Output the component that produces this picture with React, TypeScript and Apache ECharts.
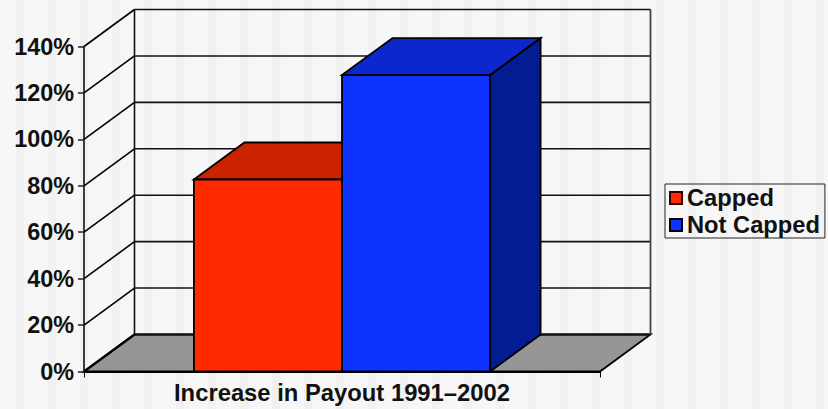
import React, { useEffect, useRef } from "react";
import * as echarts from "echarts";

const categories = ["Increase in Payout 1991–2002"];
const seriesNames = ["Capped", "Not Capped"];
const cappedValues = [82.7];
const notCappedValues = [127.7];
const yTicks = [0, 20, 40, 60, 80, 100, 120, 140];

const DX = 50.5;
const DY = -37;
const BAR_SHARE = 0.287;
const FONT = '"Liberation Sans", Arial, sans-serif';

const stroke = { stroke: "#000", lineWidth: 1.8 };

function bar(offset: number, front: string, top: string, side: string) {
  return (_p: any, api: any) => {
    const base = api.coord([api.value(0), 0]);
    const head = api.coord([api.value(0), api.value(1)]);
    const w = api.size([1, 0])[0] * BAR_SHARE;
    const x0 = base[0] + offset * w;
    const x1 = x0 + w;
    const y0 = base[1];
    const y1 = head[1];
    const poly = (points: number[][], fill: string) => ({
      type: "polygon",
      shape: { points },
      style: { fill, ...stroke },
    });
    return {
      type: "group",
      children: [
        poly([[x1, y0], [x1 + DX, y0 + DY], [x1 + DX, y1 + DY], [x1, y1]], side),
        poly([[x0, y1], [x0 + DX, y1 + DY], [x1 + DX, y1 + DY], [x1, y1]], top),
        poly([[x0, y0], [x1, y0], [x1, y1], [x0, y1]], front),
      ],
    };
  };
}

function walls(_p: any, api: any) {
  const tick = api.value(1);
  const p = api.coord([0, tick]);
  const half = api.size([1, 0])[0] / 2;
  const xl = p[0] - half;
  const xr = p[0] + half;
  const y = p[1];
  const isFloor = tick === yTicks[0];
  const isTop = tick === yTicks[yTicks.length - 1];
  const children: any[] = [];
  if (isFloor) {
    children.push({
      type: "polygon",
      shape: { points: [[xl, y], [xr, y], [xr + DX, y + DY], [xl + DX, y + DY]] },
      style: { fill: "#969696", stroke: "#000", lineWidth: 1.8 },
    });
  }
  children.push({
    type: "line",
    shape: { x1: xl, y1: y, x2: xl + DX, y2: y + DY },
    style: { stroke: "#000", lineWidth: isFloor ? 2.2 : 1.6 },
  });
  children.push({
    type: "line",
    shape: { x1: xl + DX, y1: y + DY, x2: xr + DX, y2: y + DY },
    style: { stroke: "#111", lineWidth: isFloor ? 2.2 : 1.6 },
  });
  if (isTop) {
    const b = api.coord([0, yTicks[0]])[1];
    children.push({
      type: "line",
      shape: { x1: xl + DX, y1: y + DY, x2: xl + DX, y2: b + DY },
      style: { stroke: "#111", lineWidth: 1.6 },
    });
    children.push({
      type: "line",
      shape: { x1: xr + DX, y1: y + DY, x2: xr + DX, y2: b + DY },
      style: { stroke: "#444", lineWidth: 1.8 },
    });
  }
  return { type: "group", children };
}

export default function App() {
  const ref = useRef<HTMLDivElement>(null);
  useEffect(() => {
    const chart = echarts.init(ref.current!, undefined, { renderer: "svg" });
    chart.setOption({
      animation: false,
      textStyle: { fontFamily: FONT },
      grid: { left: 84, right: 228, top: 46.5, bottom: 37.5 },
      xAxis: {
        type: "category",
        data: categories,
        z: 5,
        axisLine: { lineStyle: { color: "#000", width: 2 } },
        axisTick: { show: true, length: 6, lineStyle: { color: "#000", width: 1 } },
        axisLabel: { color: "#111", fontSize: 23.8, fontWeight: "bold", margin: 9, fontFamily: FONT },
      },
      yAxis: {
        type: "value",
        min: 0,
        max: 140,
        interval: 20,
        z: 5,
        splitLine: { show: false },
        axisLine: { show: true, lineStyle: { color: "#000", width: 1.5 } },
        axisTick: { show: true, length: 6, lineStyle: { color: "#222", width: 1.5 } },
        axisLabel: { formatter: "{value}%", color: "#111", fontSize: 23.4, fontWeight: "bold", margin: 10, fontFamily: FONT },
      },
      legend: {
        left: 665,
        top: 184,
        orient: "vertical",
        icon: "rect",
        data: seriesNames,
        itemWidth: 12,
        itemHeight: 12,
        itemGap: 3,
        padding: [2, 5, 1, 4],
        borderColor: "#222",
        borderWidth: 1,
        textStyle: { color: "#111", fontSize: 23.7, fontWeight: "bold", fontFamily: FONT },
      },
      series: [
        {
          type: "custom",
          name: "walls",
          silent: true,
          z: 1,
          clip: false,
          encode: { x: 0, y: 1 },
          data: yTicks.map((t) => [0, t]),
          renderItem: walls,
        },
        {
          type: "custom",
          name: seriesNames[0],
          z: 2,
          clip: false,
          encode: { x: 0, y: 1 },
          itemStyle: { color: "#FF2A00", borderColor: "#300", borderWidth: 1 },
          data: cappedValues.map((v, i) => [i, v]),
          renderItem: bar(-1, "#FF2A00", "#CB2200", "#8A1700"),
        },
        {
          type: "custom",
          name: seriesNames[1],
          z: 3,
          clip: false,
          encode: { x: 0, y: 1 },
          itemStyle: { color: "#0F33FF", borderColor: "#001", borderWidth: 1 },
          data: notCappedValues.map((v, i) => [i, v]),
          renderItem: bar(0, "#0F33FF", "#0C28CC", "#041C92"),
        },
      ],
    });
    return () => chart.dispose();
  }, []);
  return (
    <div
      ref={ref}
      style={{
        position: "fixed",
        left: 0,
        top: 0,
        width: 828,
        height: 409,
        background: "repeating-linear-gradient(90deg,#f7f7f7 0 16px,#f1f1f1 16px 24px,#f6f6f6 24px 32px)",
      }}
    />
  );
}
